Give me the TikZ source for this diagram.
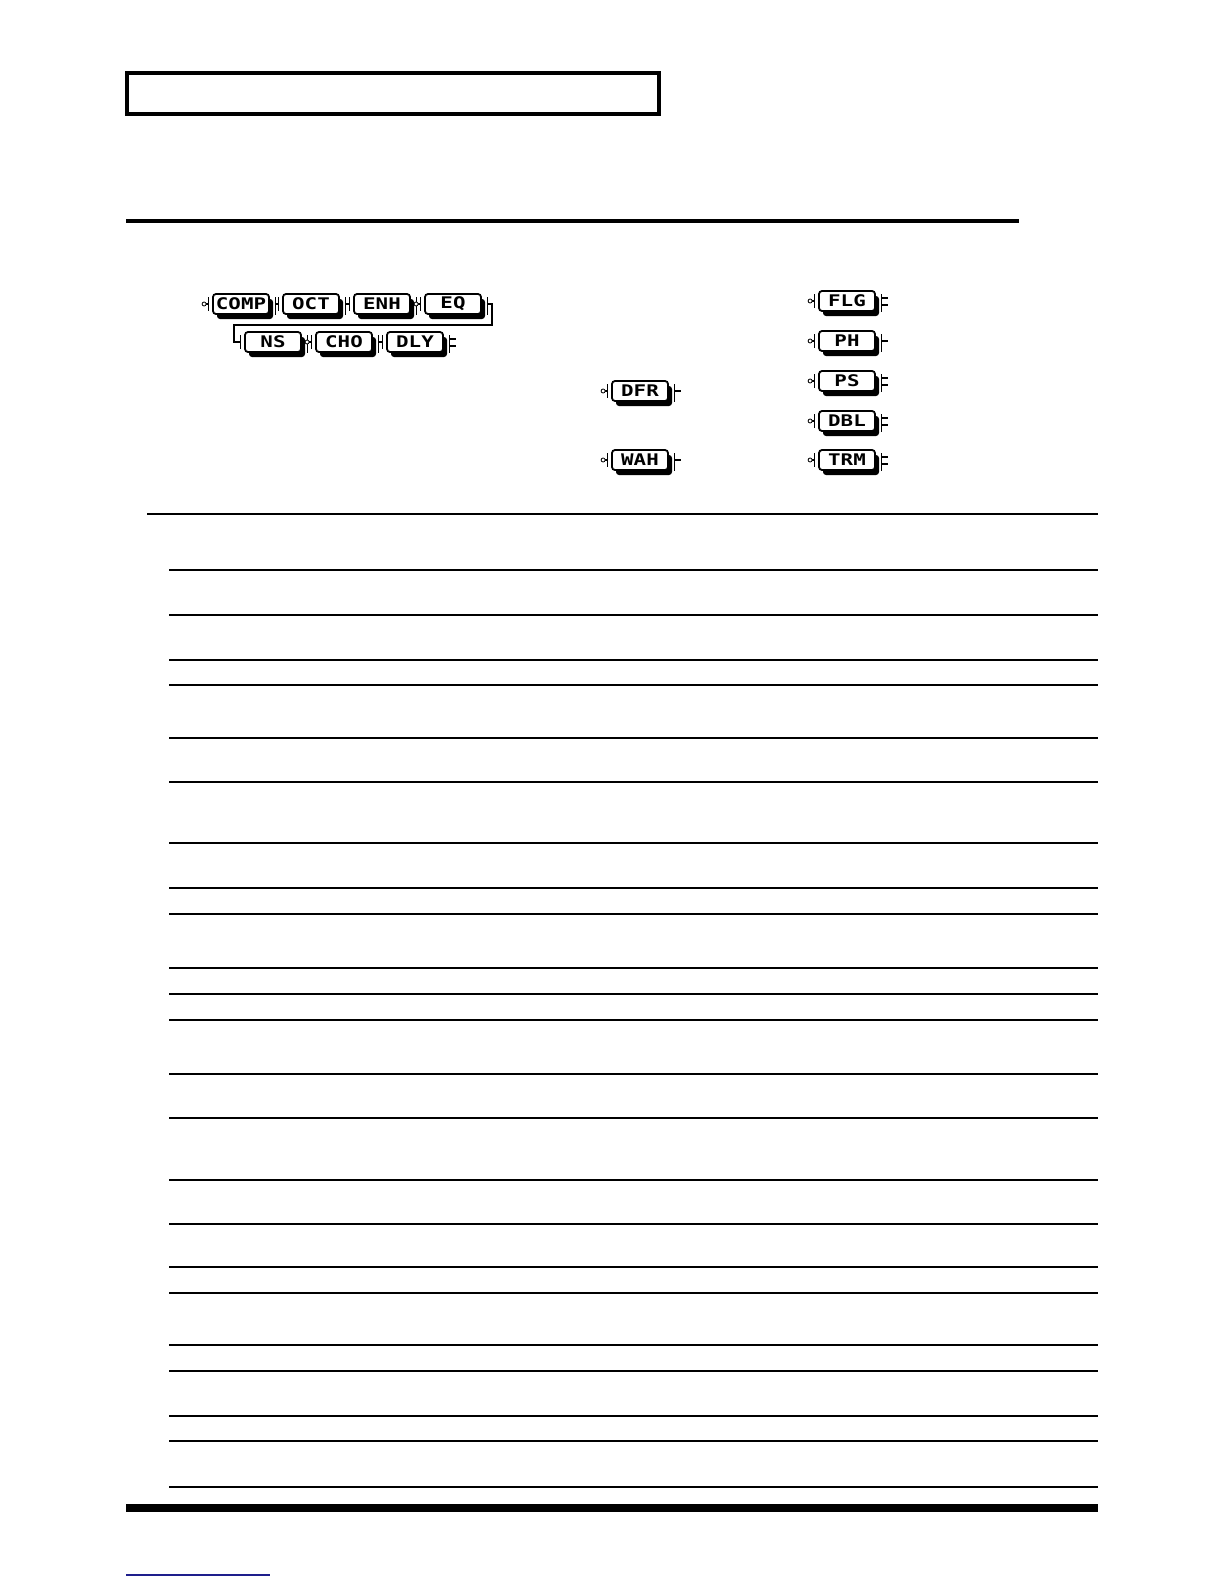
\documentclass[tikz,border=0pt]{standalone}
\usepackage{fontspec}
\newfontfamily\blkfont[FakeStretch=1.3]{DejaVu Sans Mono}
\usetikzlibrary{shadows}
\begin{document}
\begin{tikzpicture}[x=1pt,y=-1pt,
 blk/.style={draw,line width=1.8pt,fill=white,rounded corners=3pt,minimum width=56pt,minimum height=20pt,inner sep=0pt,
   font=\blkfont\bfseries\fontsize{16}{16}\selectfont,
   drop shadow={shadow xshift=4pt,shadow yshift=-5pt,fill=black,opacity=1}},
 wire/.style={line width=1.6pt},
 jack/.style={circle,draw,line width=0.8pt,fill=white,inner sep=0pt,minimum size=4pt},
 rule/.style={line width=1.3pt},
]
\fill[white] (0,0) rectangle (1224,1584);
\useasboundingbox (0,0) rectangle (1224,1584);

% header box and rule
\draw[line width=4pt] (127,73) rectangle (659,114);
\draw[line width=4pt] (126,221) -- (1019,221);

% blocks
\node[blk] (comp) at (241,304) {COMP};
\node[blk] (oct)  at (311,304) {OCT};
\node[blk] (enh)  at (382,304) {ENH};
\node[blk] (eq)   at (453,304) {EQ};
\node[blk] (ns)   at (273,342) {NS};
\node[blk] (cho)  at (344,342) {CHO};
\node[blk] (dly)  at (415,342) {DLY};
\node[blk] (dfr)  at (640,391) {DFR};
\node[blk] (wah)  at (640,460) {WAH};
\node[blk] (flg)  at (847,301) {FLG};
\node[blk] (ph)   at (847,341) {PH};
\node[blk] (ps)   at (847,381) {PS};
\node[blk] (dbl)  at (847,421) {DBL};
\node[blk] (trm)  at (847,460) {TRM};

% brackets
\foreach \n in {comp,oct,enh,eq,ns,cho,dly,dfr,wah,flg,ph,ps,dbl,trm}{
  \draw[wire] ([xshift=-3.5pt,yshift=7pt]\n.west) -- ([xshift=-3.5pt,yshift=-7pt]\n.west);
  \draw[wire] ([xshift=5.5pt,yshift=7pt]\n.east) -- ([xshift=5.5pt,yshift=-11pt]\n.east);
}

% connections
\coordinate (eqturn) at (492,325);
\coordinate (nsturn) at (234,342);
\draw[wire] ([xshift=5.5pt]comp.east) -- ([xshift=-3.5pt]oct.west);
\draw[wire] ([xshift=5.5pt]oct.east) -- ([xshift=-3.5pt]enh.west);
\draw[wire] ([xshift=5.5pt]enh.east) -- ([xshift=-3.5pt]eq.west);
\draw[wire] ([xshift=5.5pt]eq.east) -| (eqturn) -| (nsturn) -- ([xshift=-3.5pt]ns.west);
\draw[wire] ([xshift=5.5pt]ns.east) -- ([xshift=-3.5pt]cho.west);
\draw[wire] ([xshift=5.5pt]cho.east) -- ([xshift=-3.5pt]dly.west);

% single outputs
\foreach \n in {dfr,wah,ph}{
  \draw[wire] ([xshift=5.5pt]\n.east) -- ([xshift=12pt]\n.east);
}
% stereo outputs
\foreach \n in {dly,flg,ps,dbl,trm}{
  \draw[wire] ([xshift=5.5pt,yshift=3pt]\n.east) -- ([xshift=12pt,yshift=3pt]\n.east);
  \draw[wire] ([xshift=5.5pt,yshift=-4pt]\n.east) -- ([xshift=12pt,yshift=-4pt]\n.east);
}
% input jacks
\foreach \n in {comp,dfr,wah,flg,ph,ps,dbl,trm}{
  \draw[wire] ([xshift=-3.5pt]\n.west) -- ([xshift=-8pt]\n.west);
}
\foreach \n in {comp,eq,cho,dfr,wah,flg,ph,ps,dbl,trm}{
  \node[jack] (j\n) at ([xshift=-8pt]\n.west) {};
}

% table rules
\draw[line width=2.5pt] (147,514) -- (1098,514);
\foreach \yy in {570,615,660,685,738,782,843,888,914,968,994,1020,1074,1118,1180,1224,1267,1293,1345,1371,1416,1441,1487}{
  \draw[rule] (169,\yy) -- (1098,\yy);
}
\fill[black] (126,1504) rectangle (1098,1512);
\definecolor{navyline}{RGB}{30,30,140}
\draw[navyline,line width=1.5pt] (126,1575) -- (270,1575);
\end{tikzpicture}
\end{document}
